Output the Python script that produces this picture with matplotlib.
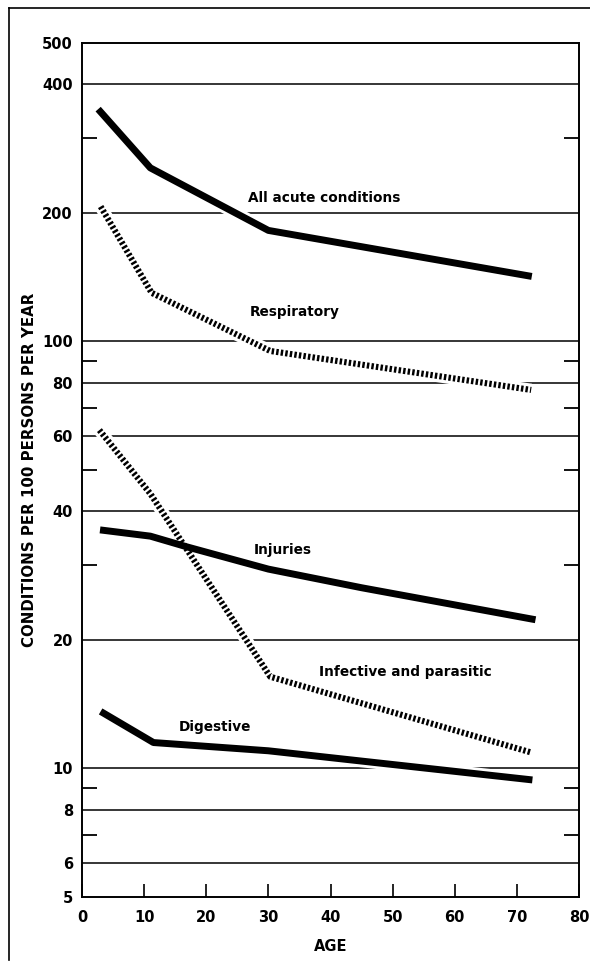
import matplotlib
matplotlib.use("Agg")
import matplotlib.pyplot as plt
from matplotlib.ticker import FixedLocator, FixedFormatter, NullFormatter
from matplotlib.lines import Line2D

# ---- data ----
ages_acute = [2.6, 11, 30, 72.4]
acute = [350, 255, 182, 142]

ages_resp = [3.0, 11.2, 30.3, 72.3]
resp = [207, 130, 95, 77]

ages_inf = [2.8, 11, 30.3, 72.3]
infective = [62, 44, 16.4, 10.9]

ages_inj = [2.9, 11, 17, 30, 45, 73]
injuries = [36.2, 35, 33, 29.3, 26.5, 22.3]

ages_dig = [3.0, 11.5, 30, 72.5]
digestive = [13.6, 11.5, 11.0, 9.4]

y_major = [5, 6, 8, 10, 20, 40, 60, 80, 100, 200, 400, 500]
y_major_labels = ["5", "6", "8", "10", "20", "40", "60", "80", "100", "200", "400", "500"]
y_minor = [7, 9, 30, 50, 70, 90, 300]
x_ticks = [0, 10, 20, 30, 40, 50, 60, 70, 80]
x_tick_labels = ["0", "10", "20", "30", "40", "50", "60", "70", "80"]
grid_values = [6, 8, 10, 20, 40, 60, 80, 100, 200, 400]

plt.rcParams['font.family'] = ['DejaVu Sans']
plt.rcParams['font.weight'] = 'bold'

W, H = 590, 966
fig = plt.figure(figsize=(W / 100, H / 100), dpi=100)
ax = fig.add_axes([82 / W, 1 - 897 / H, 497 / W, (897 - 43) / H])

ax.set_yscale('log')
ax.set_ylim(5, 500)
ax.set_xlim(0, 80)

ax.yaxis.set_major_locator(FixedLocator(y_major))
ax.yaxis.set_major_formatter(FixedFormatter(y_major_labels))
ax.yaxis.set_minor_locator(FixedLocator(y_minor))
ax.yaxis.set_minor_formatter(NullFormatter())
ax.xaxis.set_major_locator(FixedLocator(x_ticks))
ax.xaxis.set_major_formatter(FixedFormatter(x_tick_labels))

ax.tick_params(axis='y', which='major', length=0, pad=6.5, labelsize=10.5)
ax.tick_params(axis='y', which='minor', direction='in', length=11, width=1.3,
               left=True, right=True)
ax.tick_params(axis='x', which='major', direction='in', length=9.5, width=1.2,
               pad=9.5, labelsize=10.5)
ax.tick_params(axis='x', which='minor', bottom=False)

for s in ax.spines.values():
    s.set_linewidth(1.4)

for v in grid_values:
    ax.axhline(v, color='black', lw=1.1, zorder=1)

series = [
    (ages_acute, acute, '-'),
    (ages_resp, resp, (0, (0.4, 0.35))),
    (ages_inf, infective, (0, (0.4, 0.35))),
    (ages_inj, injuries, '-'),
    (ages_dig, digestive, '-'),
]

# white halo to break the grid lines around the curves
for xs, ys, ls in series:
    ax.plot(xs, ys, color='white', lw=9, solid_capstyle='butt', zorder=2)

for xs, ys, ls in series:
    if ls == '-':
        ax.plot(xs, ys, color='black', lw=5, ls='-', solid_capstyle='butt',
                solid_joinstyle='round', zorder=3)
    else:
        ax.plot(xs, ys, color='black', lw=4.4, ls=ls, dash_capstyle='butt',
                zorder=3)

lab_kw = dict(fontsize=9.8, fontweight='bold', ha='left', va='center', zorder=4)
ax.text(26.8, 217, "All acute conditions", **lab_kw)
ax.text(27.0, 117, "Respiratory", **lab_kw)
ax.text(27.6, 32.5, "Injuries", **lab_kw)
ax.text(38.1, 16.8, "Infective and parasitic", **lab_kw)
ax.text(15.6, 12.5, "Digestive", **lab_kw)

ax.set_xlabel("AGE", fontsize=10.5, fontweight='bold', labelpad=10)
ax.set_ylabel("CONDITIONS PER 100 PERSONS PER YEAR", fontsize=10.8,
              fontweight='bold', labelpad=4)

# scanned page frame
fig.add_artist(Line2D([9 / W, 1.0], [1 - 8 / H, 1 - 8 / H],
                      transform=fig.transFigure, color='black', lw=1.2))
fig.add_artist(Line2D([9 / W, 9 / W], [1 - 960 / H, 1 - 8 / H],
                      transform=fig.transFigure, color='black', lw=1.2))

fig.savefig("out.png", dpi=100, facecolor='white')
